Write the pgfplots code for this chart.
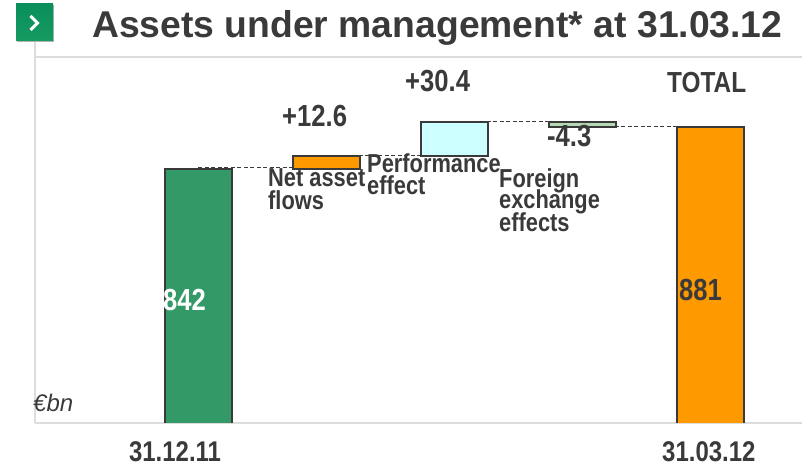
\documentclass[border=0pt]{standalone}
\usepackage{pgfplots}
\usepackage{pgfplotstable}
\usepackage{fontspec}
\pgfplotsset{compat=1.18}
\setmainfont{Liberation Sans}
\newfontfamily\cond[FakeStretch=0.84]{Liberation Sans}
\definecolor{ink}{HTML}{3A3A3A}
\definecolor{frame}{HTML}{DDDDDD}
\definecolor{cgreen}{HTML}{339966}
\definecolor{corange}{HTML}{FF9900}
\definecolor{ccyan}{HTML}{CCFFFF}
\definecolor{csage}{HTML}{B5D8B5}
\definecolor{icontop}{HTML}{0A8F5A}
\definecolor{iconbot}{HTML}{159A62}
\pgfplotstableread{
x base start netflow perf fx total
0 0     842 0    0    0   0
1 842   0   12.6 0    0   0
2 854.6 0   0    30.4 0   0
3 880.7 0   0    0    4.3 0
4 0     0   0    0    0   881
}\aumdata
\newcommand{\lab}[4][30]{\node[anchor=base west,inner sep=0pt,text=ink,font=\cond\bfseries\fontsize{#1}{#1}\selectfont] at (#2pt,#3pt) {#4};}
\begin{document}
\begin{tikzpicture}
\path[use as bounding box] (0,0) rectangle (802pt,465pt);
\begin{axis}[
  at={(35pt,42pt)},anchor=south west,
  scale only axis,width=767pt,height=366pt,
  xmin=-1.276,xmax=4.716,ymin=609.25,ymax=945.03,
  ybar stacked,bar width=67pt,
  axis lines*=left,
  axis line style={frame,line width=2pt},
  ytick=\empty,
  xtick={-0.182,3.988},
  xticklabels={31.12.11,31.03.12},
  major tick length=0pt,
  xticklabel style={text=ink,anchor=base,yshift=-39pt,inner sep=0pt,
    font=\cond\bfseries\fontsize{28.5}{28.5}\selectfont},
  title={Assets under management* at 31.03.12},
  title style={at={(axis description cs:0.0743,1.038)},anchor=base west,inner sep=0pt,
    text=ink,font=\bfseries\fontsize{37.3}{37.3}\selectfont},
  every axis plot/.append style={draw=ink,line width=2pt},
]
\addplot[draw=none,fill=none] table[x=x,y=base] {\aumdata};
\addplot[fill=cgreen] table[x=x,y=start] {\aumdata};
\addplot[fill=corange] table[x=x,y=netflow] {\aumdata};
\addplot[fill=ccyan] table[x=x,y=perf] {\aumdata};
\addplot[fill=csage] table[x=x,y=fx] {\aumdata};
\addplot[fill=corange] table[x=x,y=total] {\aumdata};
\addplot[stack plots=false,sharp plot,no marks,draw=ink,line width=1.4pt,dash pattern=on 4pt off 2.5pt] coordinates {(0,843.4) (0.97,843.4)};
\addplot[stack plots=false,sharp plot,no marks,draw=ink,line width=1.4pt,dash pattern=on 4pt off 2.5pt] coordinates {(1,854.9) (2,854.9)};
\addplot[stack plots=false,sharp plot,no marks,draw=ink,line width=1.4pt,dash pattern=on 4pt off 2.5pt] coordinates {(2,885.9) (2.98,885.9)};
\addplot[stack plots=false,sharp plot,no marks,draw=ink,line width=1.4pt,dash pattern=on 4pt off 2.5pt] coordinates {(3,881.3) (4,881.3)};
\end{axis}
% frame lines
\draw[frame,line width=2.5pt] (35pt,423pt) -- (35pt,42pt);
\draw[frame,line width=2.5pt] (35pt,408pt) -- (802pt,408pt);
% icon
\fill[black!30] (17pt,423pt) rectangle (54pt,460pt);
\shade[top color=icontop,bottom color=iconbot] (16pt,424pt) rectangle (53pt,461pt);
\draw[white,line width=3pt] (30.5pt,449pt) -- (37.5pt,442pt) -- (30.5pt,435pt);
% annotations
\lab[30.5]{282}{338}{+12.6}
\lab[30.5]{405}{373}{+30.4}
\lab[29]{667}{372}{TOTAL}
\lab[30.5]{547}{318}{-4.3}
\node[anchor=base west,inner sep=0pt,text=white,font=\cond\bfseries\fontsize{30.5}{30.5}\selectfont] at (163pt,154pt) {842};
\lab[30.5]{679}{164}{881}
\lab[26]{268}{278}{Net asset}
\lab[26]{268}{255}{flows}
\lab[26]{367}{292}{Performance}
\lab[26]{367}{270}{effect}
\lab[26]{499}{277}{Foreign}
\lab[26]{499}{256}{exchange}
\lab[26]{499}{233}{effects}
\node[anchor=base west,inner sep=0pt,text=ink,font=\itshape\fontsize{24}{24}\selectfont] at (33pt,53pt) {€bn};
\end{tikzpicture}
\end{document}
